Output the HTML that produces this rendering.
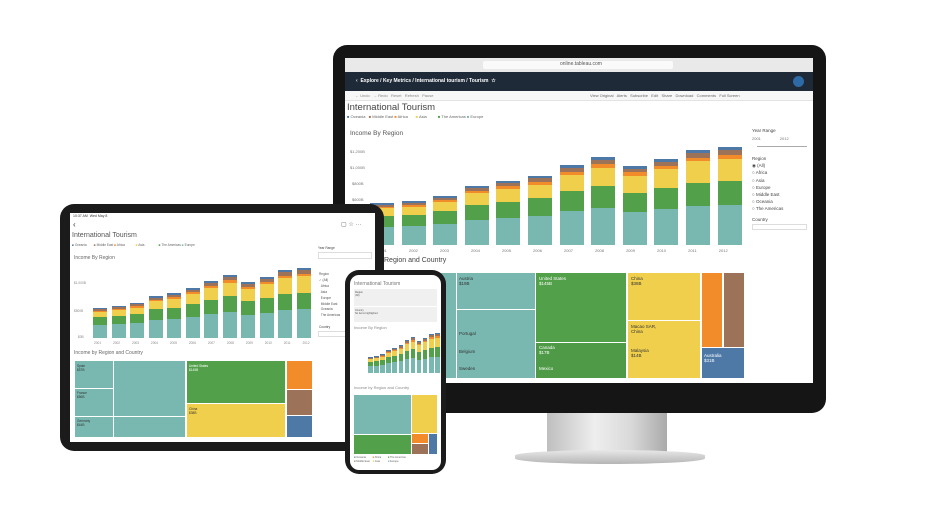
<!DOCTYPE html>
<html><head><meta charset="utf-8"><style>
*{margin:0;padding:0;box-sizing:border-box}
body{width:947px;height:505px;background:#fff;position:relative;overflow:hidden;font-family:"Liberation Sans",sans-serif}
.a{position:absolute}
.t{position:absolute;white-space:nowrap;color:#555}
</style></head><body>
<div id="root">
<!-- Monitor -->
<div class="a" style="left:547px;top:405px;width:120px;height:52px;background:linear-gradient(90deg,#bfbfbf,#eee 40%,#d9d9d9 70%,#aaa)"></div>
<div class="a" style="left:515px;top:450px;width:190px;height:14px;border-radius:50%/40%;background:linear-gradient(#e8e8e8,#b5b5b5)"></div>
<div class="a" style="left:333px;top:45px;width:493px;height:368px;background:#151515;border-radius:14px"></div>
<div class="a" style="left:345px;top:58px;width:468px;height:325px;background:#fff"></div>
<div class="a" style="left:345px;top:58px;width:468px;height:14px;background:#e9e9e9"></div>
<div class="a" style="left:483px;top:61px;width:190px;height:8px;background:#fafafa;border-radius:2px"></div>
<div class="t" style="left:560px;top:61px;font-size:5px">online.tableau.com</div>
<div class="a" style="left:345px;top:72px;width:468px;height:19px;background:#1f2a38"></div>
<div class="t" style="left:356px;top:78px;font-size:5px;color:#fff;font-weight:bold">‹&nbsp; Explore / Key Metrics / International tourism / Tourism &nbsp;☆</div>
<div class="a" style="left:793px;top:76px;width:11px;height:11px;border-radius:50%;background:#2d6aa6"></div>
<div class="a" style="left:345px;top:91px;width:468px;height:10px;background:#f7f7f7;border-bottom:1px solid #e3e3e3"></div>
<div class="t" style="left:355px;top:93px;font-size:4px;color:#888">← Undo &nbsp; → Redo &nbsp; Reset &nbsp; Refresh &nbsp; Pause</div>
<div class="t" style="left:590px;top:93px;font-size:4px;color:#666">View Original &nbsp; Alerts &nbsp; Subscribe &nbsp; Edit &nbsp; Share &nbsp; Download &nbsp; Comments &nbsp; Full Screen</div>
<div class="t" style="left:347px;top:102px;font-size:9.5px;color:#444">International Tourism</div>
<div class="t" style="left:347px;top:114px;font-size:4px;color:#666"><span style="color:#4e79a7">■</span> Oceania &nbsp;&nbsp;<span style="color:#9c7358">■</span> Middle East <span style="color:#f28c2a">■</span> Africa &nbsp;&nbsp;&nbsp;&nbsp;&nbsp;&nbsp;<span style="color:#f0cf4c">■</span> Asia &nbsp;&nbsp;&nbsp;&nbsp;&nbsp;&nbsp;&nbsp;&nbsp;&nbsp;<span style="color:#52a04a">■</span> The Americas <span style="color:#79b8b0">■</span> Europe</div>
<div class="t" style="left:350px;top:130px;font-size:6.5px">Income By Region</div>
<div class="t" style="left:350px;top:149px;font-size:4px;color:#777">$1,200B</div>
<div class="t" style="left:350px;top:165px;font-size:4px;color:#777">$1,000B</div>
<div class="t" style="left:352px;top:181px;font-size:4px;color:#777">$800B</div>
<div class="t" style="left:352px;top:197px;font-size:4px;color:#777">$600B</div>
<div id="mbars"></div>
<div class="t" style="top:248px;left:378px;font-size:4px;color:#777;word-spacing:21px">2001 2002 2003 2004 2005 2006 2007 2008 2009 2010 2011 2012</div>
<div class="t" style="left:384px;top:257px;font-size:7px;color:#444">Region and Country</div>
<!-- monitor treemap -->
<div class="a" style="left:370px;top:273px;width:165px;height:105px;background:#79b8b0"></div>
<div class="a" style="left:536px;top:273px;width:90px;height:105px;background:#52a04a"></div>
<div class="a" style="left:536px;top:342px;width:90px;height:36px;background:#4e9a46;border-top:1px solid #fff"></div>
<div class="a" style="left:628px;top:273px;width:72px;height:105px;background:#f0cf4c"></div>
<div class="a" style="left:702px;top:273px;width:20px;height:74px;background:#f28c2a"></div>
<div class="a" style="left:724px;top:273px;width:20px;height:74px;background:#9c7358"></div>
<div class="a" style="left:702px;top:348px;width:42px;height:30px;background:#4e79a7"></div>
<div class="a" style="left:456px;top:273px;width:1px;height:105px;background:#fff"></div>
<div class="a" style="left:457px;top:309px;width:78px;height:1px;background:#fff"></div>
<div class="a" style="left:628px;top:320px;width:72px;height:1px;background:#fff"></div>
<div class="t" style="left:459px;top:276px;font-size:4.5px;color:#333">Austria<br>$19B</div>
<div class="t" style="left:459px;top:331px;font-size:4.5px;color:#333">Portugal</div>
<div class="t" style="left:459px;top:349px;font-size:4.5px;color:#333">Belgium</div>
<div class="t" style="left:459px;top:366px;font-size:4.5px;color:#333">Sweden</div>
<div class="t" style="left:539px;top:276px;font-size:4.5px;color:#fff">United States<br>$145B</div>
<div class="t" style="left:539px;top:345px;font-size:4.5px;color:#fff">Canada<br>$17B</div>
<div class="t" style="left:539px;top:366px;font-size:4.5px;color:#fff">Mexico</div>
<div class="t" style="left:631px;top:276px;font-size:4.5px;color:#333">China<br>$38B</div>
<div class="t" style="left:631px;top:324px;font-size:4.5px;color:#333">Macao SAR,<br>China</div>
<div class="t" style="left:631px;top:348px;font-size:4.5px;color:#333">Malaysia<br>$14B</div>
<div class="t" style="left:704px;top:353px;font-size:4.5px;color:#fff">Australia<br>$31B</div>
<!-- monitor side panel -->
<div class="t" style="left:752px;top:128px;font-size:4.5px;color:#444">Year Range</div>
<div class="t" style="left:752px;top:136px;font-size:4px;color:#777">2001 &nbsp;&nbsp;&nbsp;&nbsp;&nbsp;&nbsp;&nbsp;&nbsp;&nbsp;&nbsp;&nbsp;&nbsp;&nbsp;&nbsp;&nbsp;&nbsp;2012</div>
<div class="a" style="left:757px;top:146px;width:50px;height:1px;background:#aaa"></div>
<div class="t" style="left:752px;top:155px;font-size:4.5px;color:#444;line-height:7.2px">Region<br>◉ (All)<br>○ Africa<br>○ Asia<br>○ Europe<br>○ Middle East<br>○ Oceania<br>○ The Americas</div>
<div class="t" style="left:752px;top:217px;font-size:4.5px;color:#444">Country</div>
<div class="a" style="left:752px;top:224px;width:55px;height:6px;border:1px solid #ddd"></div>

<!-- Tablet -->
<div class="a" style="left:60px;top:204px;width:324px;height:247px;background:#1b1b1b;border-radius:14px"></div>
<div class="a" style="left:70px;top:213px;width:305px;height:229px;background:#fff"></div>
<div class="t" style="left:73px;top:214px;font-size:3.5px;color:#333">10:37 AM &nbsp;Wed May 8</div>
<div class="t" style="left:73px;top:220px;font-size:8px;color:#333">‹</div>
<div class="t" style="left:341px;top:221px;font-size:6px;color:#666">▢ ☆ ···</div>
<div class="t" style="left:72px;top:232px;font-size:7px;color:#555">International Tourism</div>
<div class="t" style="left:72px;top:243px;font-size:3.2px;color:#666"><span style="color:#4e79a7">■</span> Oceania &nbsp;&nbsp;&nbsp;&nbsp;&nbsp;&nbsp;&nbsp;<span style="color:#9c7358">■</span> Middle East <span style="color:#f28c2a">■</span> Africa &nbsp;&nbsp;&nbsp;&nbsp;&nbsp;&nbsp;&nbsp;&nbsp;&nbsp;&nbsp;&nbsp;<span style="color:#f0cf4c">■</span> Asia &nbsp;&nbsp;&nbsp;&nbsp;&nbsp;&nbsp;&nbsp;&nbsp;&nbsp;&nbsp;&nbsp;&nbsp;&nbsp;&nbsp;&nbsp;<span style="color:#52a04a">■</span> The Americas <span style="color:#79b8b0">■</span> Europe</div>
<div class="t" style="left:74px;top:255px;font-size:5px;color:#666">Income By Region</div>
<div class="t" style="left:74px;top:281px;font-size:3.2px;color:#888">$1,000B</div>
<div class="t" style="left:74px;top:309px;font-size:3.2px;color:#888">$500B</div>
<div class="t" style="left:78px;top:335px;font-size:3.2px;color:#888">$0B</div>
<div id="tbars"></div>
<div class="t" style="left:94px;top:341px;font-size:3.2px;color:#888;word-spacing:11px">2001 2002 2003 2004 2005 2006 2007 2008 2009 2010 2011 2012</div>
<div class="t" style="left:74px;top:350px;font-size:5px;color:#666">Income by Region and Country</div>
<div class="a" style="left:75px;top:361px;width:110px;height:76px;background:#79b8b0"></div>
<div class="a" style="left:113px;top:361px;width:1px;height:76px;background:#fff"></div>
<div class="a" style="left:75px;top:388px;width:38px;height:1px;background:#fff"></div>
<div class="a" style="left:75px;top:416px;width:110px;height:1px;background:#fff"></div>
<div class="a" style="left:187px;top:361px;width:98px;height:42px;background:#52a04a"></div>
<div class="a" style="left:187px;top:404px;width:98px;height:33px;background:#f0cf4c"></div>
<div class="a" style="left:287px;top:361px;width:25px;height:28px;background:#f28c2a"></div>
<div class="a" style="left:287px;top:390px;width:25px;height:25px;background:#9c7358"></div>
<div class="a" style="left:287px;top:416px;width:25px;height:21px;background:#4e79a7"></div>
<div class="t" style="left:77px;top:364px;font-size:3.2px;color:#333">Spain<br>$57B</div>
<div class="t" style="left:77px;top:391px;font-size:3.2px;color:#333">France<br>$56B</div>
<div class="t" style="left:77px;top:419px;font-size:3.2px;color:#333">Germany<br>$44B</div>
<div class="t" style="left:189px;top:364px;font-size:3.2px;color:#fff">United States<br>$145B</div>
<div class="t" style="left:189px;top:407px;font-size:3.2px;color:#333">China<br>$38B</div>
<div class="a" style="left:318px;top:252px;width:54px;height:7px;border:1px solid #ddd"></div>
<div class="t" style="left:318px;top:246px;font-size:3.2px;color:#444">Year Range</div>
<div class="t" style="left:319px;top:272px;font-size:3.2px;color:#555;line-height:5.9px">Region<br>✓ (All)<br>&nbsp;&nbsp;Africa<br>&nbsp;&nbsp;Asia<br>&nbsp;&nbsp;Europe<br>&nbsp;&nbsp;Middle East<br>&nbsp;&nbsp;Oceania<br>&nbsp;&nbsp;The Americas</div>
<div class="t" style="left:319px;top:325px;font-size:3.2px;color:#444">Country</div>
<div class="a" style="left:318px;top:331px;width:54px;height:6px;border:1px solid #ddd"></div>

<!-- Phone -->
<div class="a" style="left:345px;top:270px;width:101px;height:204px;background:#1b1b1b;border-radius:14px"></div>
<div class="a" style="left:350px;top:275px;width:91px;height:195px;background:#fff;border-radius:9px"></div>
<div class="t" style="left:354px;top:281px;font-size:5px;color:#777">International Tourism</div>
<div class="a" style="left:354px;top:289px;width:83px;height:17px;background:#f0f0f0"></div>
<div class="a" style="left:354px;top:307px;width:83px;height:15px;background:#f0f0f0"></div>
<div class="t" style="left:355px;top:291px;font-size:2.5px;color:#555">Region<br>(All)</div>
<div class="t" style="left:355px;top:309px;font-size:2.5px;color:#555">Country<br>No items highlighted</div>
<div class="t" style="left:354px;top:325px;font-size:4px;color:#888">Income By Region</div>
<div id="pbars"></div>
<div class="t" style="left:354px;top:385px;font-size:4px;color:#888">Income by Region and Country</div>
<div class="a" style="left:354px;top:395px;width:57px;height:39px;background:#79b8b0"></div>
<div class="a" style="left:412px;top:395px;width:25px;height:38px;background:#f0cf4c"></div>
<div class="a" style="left:354px;top:435px;width:57px;height:19px;background:#52a04a"></div>
<div class="a" style="left:412px;top:434px;width:16px;height:9px;background:#f28c2a"></div>
<div class="a" style="left:412px;top:444px;width:16px;height:10px;background:#9c7358"></div>
<div class="a" style="left:429px;top:434px;width:8px;height:20px;background:#4e79a7"></div>
<div class="t" style="left:354px;top:456px;font-size:2.6px;color:#666;line-height:4px"><span style="color:#4e79a7">■</span> Oceania &nbsp;&nbsp;&nbsp;&nbsp;&nbsp;&nbsp;&nbsp;&nbsp;<span style="color:#f28c2a">■</span> Africa &nbsp;&nbsp;&nbsp;&nbsp;&nbsp;&nbsp;&nbsp;&nbsp;<span style="color:#52a04a">■</span> The Americas<br><span style="color:#9c7358">■</span> Middle East &nbsp;&nbsp;&nbsp;<span style="color:#f0cf4c">■</span> Asia &nbsp;&nbsp;&nbsp;&nbsp;&nbsp;&nbsp;&nbsp;&nbsp;&nbsp;&nbsp;<span style="color:#79b8b0">■</span> Europe</div>
</div>
<script>
var C=["#79b8b0","#52a04a","#f0cf4c","#f28c2a","#9c7358","#4e79a7"];
function bars(id,base,x0,sp,w,tops){
 var h="";
 tops.forEach(function(top,i){
  var H=base-top,y=base,x=x0+i*sp,ys=0.17+0.07*i/11;
  var r=[0.43,0.25,ys,0.04,0.05,0.03],s=r.reduce(function(a,b){return a+b});
  r.forEach(function(f,k){var hh=H*f/s;y-=hh;
   h+='<div class="a" style="left:'+x+'px;top:'+y.toFixed(2)+'px;width:'+w+'px;height:'+(hh+0.3).toFixed(2)+'px;background:'+C[k]+'"></div>';});
 });
 document.getElementById(id).innerHTML=h;
}
bars("mbars",245,370,31.6,24,[203,201,196,186,181,176,165,157,166,159,150,147]);
bars("tbars",338,93,18.5,14,[308,306,303,296,293,288,281,275,282,277,270,268]);
bars("pbars",373,368,6.1,4.5,[357,356,354,350,348,345,340,337,341,338,334,333]);
</script>
</body></html>
